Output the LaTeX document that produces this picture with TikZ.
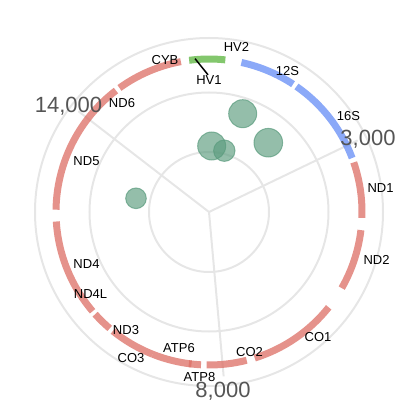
\documentclass[tikz,border=0pt]{standalone}
\usepackage{fontspec}
\setmainfont{Liberation Sans}
\definecolor{mauluoi}{RGB}{230,230,230}
\definecolor{gendo}{RGB}{220,110,100}
\definecolor{genxanh}{RGB}{100,140,245}
\definecolor{genla}{RGB}{90,180,60}
\definecolor{bongxanh}{RGB}{90,155,125}
\definecolor{chumoc}{RGB}{85,85,85}
\begin{document}
\begin{tikzpicture}[x=1pt, y=1pt, font=\fontsize{13}{15}\selectfont,
	luoi/.style={draw=mauluoi, line width=2pt},
	gen/.style={line width=7pt, opacity=.75},
	nhan/.style={inner sep=1pt},
	moc/.style={text=chumoc, anchor=base, font=\fontsize{22}{24}\selectfont},
	bong/.style={fill=bongxanh, fill opacity=.65, draw=bongxanh, draw opacity=.7, line width=1pt}]
	\useasboundingbox (-209,-205) rectangle (208,212);
	\foreach \r in {60,119.5,174}{\draw[luoi] (0,0) circle(\r);}% Vòng lưới
	\foreach \p in {3000,8000,14000}{\pgfmathsetmacro\a{92.1-\p*0.022132}
		\draw[luoi] (0,0)--(\a:165);}% Tia
	\foreach \x/\y/\r in {33.7/98.3/14, 59.3/69.3/14.3, 2.7/66/14, 15.3/61.3/10.7, -73/13.7/10.3}{
		\draw[bong] (\x,\y) circle(\r);}% Bong bóng
	\foreach \s/\e/\c in {3307/4262/gendo, 4470/5511/gendo, 5904/7445/gendo, 7586/8269/gendo,
		8366/8572/gendo, 8527/9207/gendo, 9207/9990/gendo, 10059/10404/gendo, 10470/10766/gendo,
		10760/12137/gendo, 12337/14148/gendo, 14149/14673/gendo, 14747/15887/gendo,
		648/1601/genxanh, 1671/3229/genxanh, -242/372/genla}{
		\pgfmathsetmacro\a{92.1-\s*0.022132}
		\pgfmathsetmacro\b{92.1-\e*0.022132}
		\draw[gen, draw=\c] (\a:153) arc[start angle=\a, end angle=\b, radius=153];}% Vòng gen
	\node[moc] (m3000) at (159,66) {3,000};
	\node[moc] (m8000) at (14,-185) {8,000};
	\node[moc] (m14000) at (-140.5,99) {14,000};
	\foreach \t/\x/\y/\n in {CYB/-44/152/cyb, HV2/27.5/165/hvb, HV1/0/131.5/hva, 12S/78.5/140.5/rs,
		ND6/-87/108.5/nds, ND5/-122.5/50.5/ndn, ND4/-122.5/-52.5/ndf, ND4L/-118.5/-82.5/ndl,
		ND3/-83/-118.5/ndb, CO3/-78/-146.5/cob, ATP6/-30/-136.5/atps, ATP8/-9.5/-165.5/atpt,
		CO2/40.5/-140/coh, CO1/109/-125.5/coa, ND2/167.5/-47.5/ndh, ND1/171.5/23.5/nda, 16S/139.5/95.5/rl}{
		\node[nhan] (\n) at (\x,\y) {\t};}% Tên gen
	\coordinate (dauhv) at (95.2:154);
	\draw[line width=1.5pt] (dauhv) -- (hva.100);
\end{tikzpicture}
\end{document}
